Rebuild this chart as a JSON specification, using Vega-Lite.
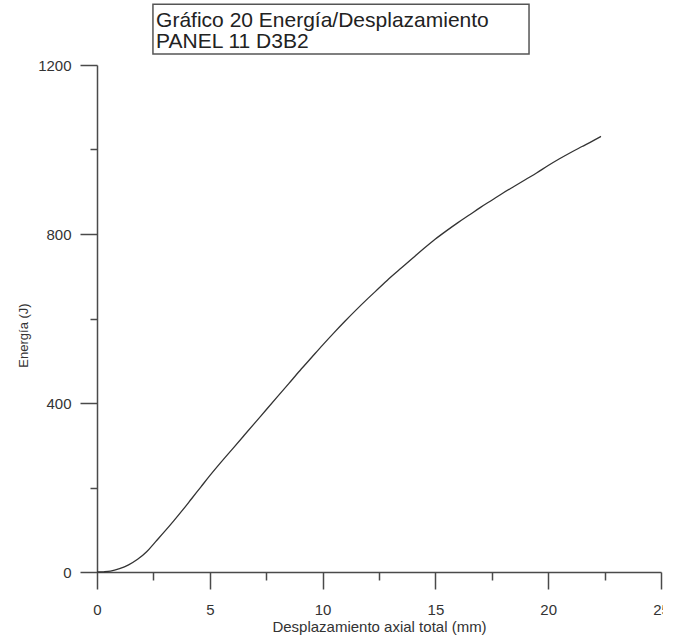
{
  "$schema": "https://vega.github.io/schema/vega-lite/v6.json",
  "autosize": "none",
  "width": 564,
  "height": 507,
  "padding": {"left": 97, "top": 65, "right": 2, "bottom": 63},
  "background": "white",
  "config": {
    "view": {"stroke": null},
    "font": "Liberation Sans",
    "axis": {
      "domainColor": "#4a4a4a",
      "domainWidth": 1.5,
      "tickColor": "#4a4a4a",
      "tickWidth": 1.5,
      "labelColor": "#333333",
      "titleColor": "#333333",
      "labelFont": "Liberation Sans",
      "titleFont": "Liberation Sans",
      "titleFontWeight": "normal",
      "grid": false,
      "labelOverlap": false,
      "labelFlush": false
    }
  },
  "layer": [
    {
      "data": {
        "values": [
          {"d": 0, "E": 0}, {"d": 0.3, "E": 0.5}, {"d": 0.6, "E": 2}, {"d": 1.0, "E": 8},
          {"d": 1.4, "E": 17}, {"d": 1.8, "E": 30}, {"d": 2.2, "E": 48}, {"d": 2.6, "E": 72},
          {"d": 3.0, "E": 96}, {"d": 3.4, "E": 121}, {"d": 3.8, "E": 147}, {"d": 4.2, "E": 174},
          {"d": 4.6, "E": 201}, {"d": 5.0, "E": 228}, {"d": 5.5, "E": 260}, {"d": 6.0, "E": 291},
          {"d": 6.5, "E": 322}, {"d": 7.0, "E": 353}, {"d": 7.5, "E": 384}, {"d": 8.0, "E": 415},
          {"d": 8.5, "E": 446}, {"d": 9.0, "E": 477}, {"d": 9.5, "E": 507}, {"d": 10.0, "E": 537},
          {"d": 10.5, "E": 566}, {"d": 11.0, "E": 594}, {"d": 11.5, "E": 621}, {"d": 12.0, "E": 647},
          {"d": 12.5, "E": 672}, {"d": 13.0, "E": 697}, {"d": 13.5, "E": 720}, {"d": 14.0, "E": 743},
          {"d": 14.5, "E": 766}, {"d": 15.0, "E": 788}, {"d": 15.5, "E": 808}, {"d": 16.0, "E": 827},
          {"d": 16.5, "E": 845}, {"d": 17.0, "E": 863}, {"d": 17.5, "E": 880}, {"d": 18.0, "E": 897},
          {"d": 18.5, "E": 913}, {"d": 19.0, "E": 929}, {"d": 19.5, "E": 945}, {"d": 20.0, "E": 962},
          {"d": 20.5, "E": 978}, {"d": 21.0, "E": 993}, {"d": 21.5, "E": 1007}, {"d": 22.0, "E": 1021},
          {"d": 22.34, "E": 1031}
        ]
      },
      "mark": {"type": "line", "color": "#333333", "strokeWidth": 1.3, "interpolate": "monotone"},
      "encoding": {
        "x": {
          "field": "d",
          "type": "quantitative",
          "scale": {"domain": [0, 25], "nice": false, "zero": false},
          "axis": {
            "title": "Desplazamiento axial total (mm)",
            "values": [0, 2.5, 5, 7.5, 10, 12.5, 15, 17.5, 20, 22.5, 25],
            "labelExpr": "datum.value % 5 === 0 ? datum.label : ''",
            "tickSize": {"condition": {"test": "datum.value % 5 !== 0", "value": 8}, "value": 17},
            "labelFontSize": 15,
            "labelPadding": 13,
            "titleFontSize": 15,
            "titlePadding": 2
          }
        },
        "y": {
          "field": "E",
          "type": "quantitative",
          "scale": {"domain": [0, 1200], "nice": false},
          "axis": {
            "title": "Energía (J)",
            "values": [0, 200, 400, 600, 800, 1000, 1200],
            "labelExpr": "datum.value % 400 === 0 ? datum.label : ''",
            "format": "d",
            "tickSize": {"condition": {"test": "datum.value % 400 !== 0", "value": 7}, "value": 17},
            "labelFontSize": 15,
            "labelPadding": 9,
            "titleFontSize": 13,
            "titlePadding": 7,
            "titleY": 270
          }
        }
      }
    },
    {
      "data": {"values": [{"box": "title"}]},
      "mark": {"type": "rect", "fill": null, "stroke": "#555555", "strokeWidth": 1.5, "clip": false},
      "encoding": {
        "x": {"datum": 2.48},
        "x2": {"datum": 19.15},
        "y": {"datum": 1344},
        "y2": {"datum": 1226}
      }
    },
    {
      "data": {"values": [{"t": "Gráfico 20 Energía/Desplazamiento"}]},
      "mark": {"type": "text", "align": "left", "baseline": "alphabetic", "fontSize": 21, "font": "Liberation Sans", "color": "#222222", "clip": false},
      "encoding": {
        "x": {"datum": 2.62},
        "y": {"datum": 1290},
        "text": {"field": "t"}
      }
    },
    {
      "data": {"values": [{"t": "PANEL 11 D3B2"}]},
      "mark": {"type": "text", "align": "left", "baseline": "alphabetic", "fontSize": 21, "font": "Liberation Sans", "color": "#222222", "clip": false},
      "encoding": {
        "x": {"datum": 2.62},
        "y": {"datum": 1240},
        "text": {"field": "t"}
      }
    }
  ]
}
